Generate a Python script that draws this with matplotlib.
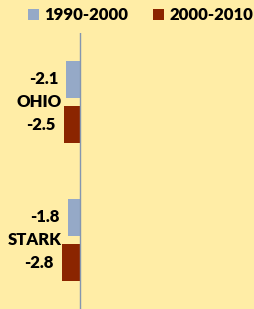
import numpy as np
import matplotlib.pyplot as plt
from matplotlib.patches import Patch

# -----------------------------------------------------------------------------
# Data
# -----------------------------------------------------------------------------
categories = ['OHIO', 'STARK']
series_names = ['1990-2000', '2000-2010']
change_1990_2000 = [-2.1, -1.8]
change_2000_2010 = [-2.5, -2.8]

bg = '#FFEDA6'
colors = ['#95A9C7', '#8B2500']
fs = 12

plt.rcParams['font.family'] = ['Lato', 'DejaVu Sans']
plt.rcParams['font.weight'] = 'heavy'

# -----------------------------------------------------------------------------
# Figure
# -----------------------------------------------------------------------------
fig = plt.figure(figsize=(2.55, 3.09), dpi=100, facecolor=bg)
ax = fig.add_axes([0, 0, 1, 1 - 33 / 309])
ax.set_facecolor(bg)

y = np.arange(len(categories))
h = 0.268
off = 0.165
for vals, col, d in [(change_1990_2000, colors[0], -off), (change_2000_2010, colors[1], off)]:
    bars = ax.barh(y + d, vals, height=h, color=col)
    for b, v in zip(bars, vals):
        ax.annotate(f'{v:.1f}', xy=(v, b.get_y() + b.get_height() / 2),
                    xytext=(-6, 0), textcoords='offset points',
                    ha='right', va='center', fontsize=fs, fontweight='heavy')

for i, c in enumerate(categories):
    ax.annotate(c, xy=(0, i), xytext=(-13, 0), textcoords='offset points',
                ha='right', va='center', fontsize=fs, fontweight='heavy')

ax.set_xlim(-12.3, 26.9)
ax.set_ylim(1.5, -0.5)
ax.set_xticks([])
ax.set_yticks([])
for s in ['top', 'right', 'bottom', 'left']:
    ax.spines[s].set_visible(False)
ax.axvline(0, color='#8496B0', lw=1)

handles = [Patch(facecolor=c, label=n) for c, n in zip(colors, series_names)]
fig.legend(handles=handles, loc='center', bbox_to_anchor=(0.551, 0.95), ncol=2,
           frameon=False, fontsize=fs, handlelength=0.66, handleheight=0.66,
           handletextpad=0.3, columnspacing=1.5, borderaxespad=0, borderpad=0)

fig.savefig('out.png', dpi=100, facecolor=bg)
